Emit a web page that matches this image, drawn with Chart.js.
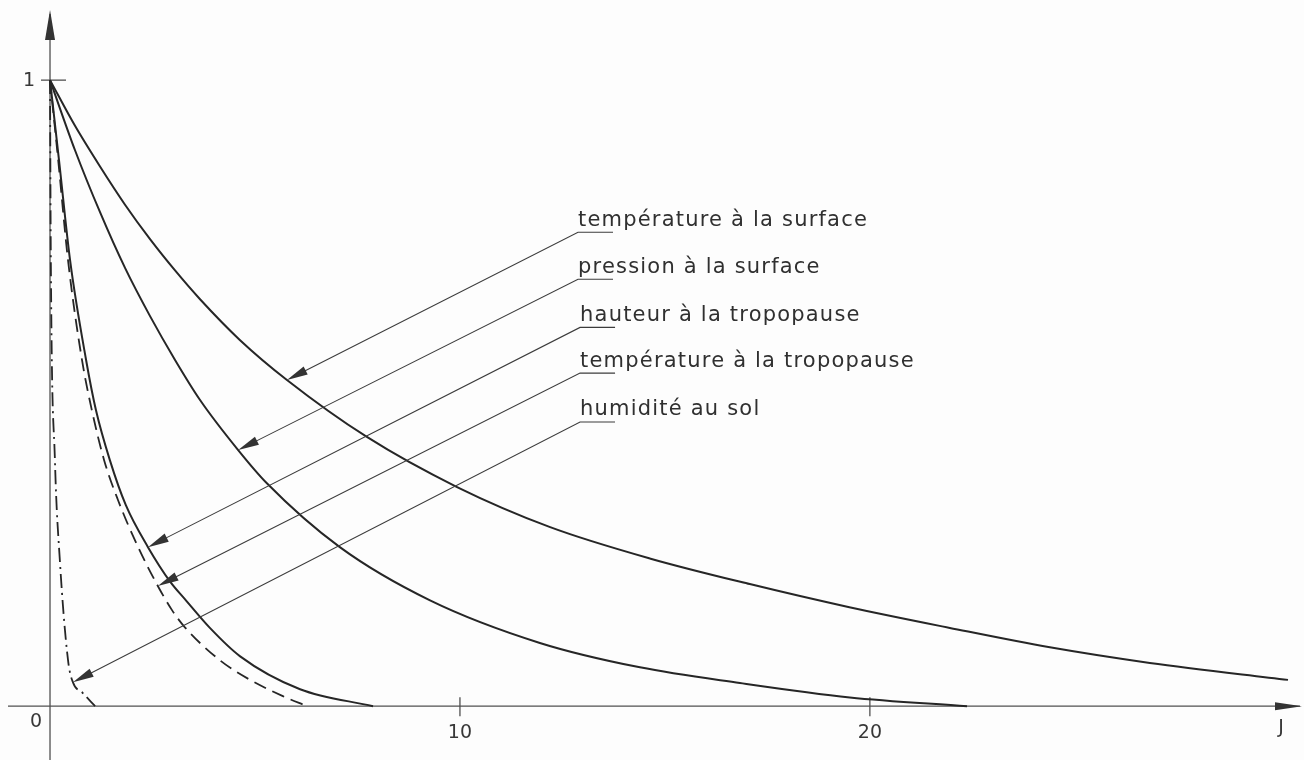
<!DOCTYPE html>
<html>
<head>
<meta charset="utf-8">
<script src="https://cdn.jsdelivr.net/npm/chart.js@4/dist/chart.umd.min.js"></script>
<style>
  html, body { margin: 0; padding: 0; background: #fdfdfd; }
  #wrap { width: 1304px; height: 760px; }
</style>
</head>
<body>
<div id="wrap"><canvas id="myChart" width="1304" height="760"></canvas></div>
<script>
// values: x in days (J), y as a fraction of the initial value
const tempSurfX = [0, 0.61, 1.22, 1.83, 2.44, 3.05, 3.66, 4.63, 5.78, 7.73, 9.93, 12.2, 14.63, 17.07, 19.5, 21.95, 24.39, 26.83, 30.2];
const tempSurfY = [1, 0.927, 0.862, 0.801, 0.746, 0.696, 0.650, 0.585, 0.521, 0.430, 0.350, 0.286, 0.236, 0.195, 0.158, 0.125, 0.094, 0.069, 0.042];

const presSurfX = [0, 0.61, 1.22, 1.83, 2.44, 3.05, 3.66, 4.59, 5.29, 7.07, 9.27, 11.95, 14.39, 16.83, 19.51, 22.37];
const presSurfY = [1, 0.888, 0.789, 0.700, 0.623, 0.553, 0.489, 0.409, 0.356, 0.254, 0.169, 0.101, 0.062, 0.037, 0.014, 0];

const hautTropoX = [0, 0.22, 0.49, 0.88, 1.12, 1.46, 1.85, 2.39, 2.93, 3.29, 3.9, 4.63, 6.1, 7.88];
const hautTropoY = [1, 0.872, 0.712, 0.553, 0.473, 0.393, 0.321, 0.254, 0.199, 0.171, 0.125, 0.080, 0.027, 0];

const tempTropoX = [0, 0.2, 0.44, 0.78, 1.02, 1.32, 1.66, 2.15, 2.63, 2.98, 3.29, 4.15, 4.88, 5.68, 6.27];
const tempTropoY = [1, 0.872, 0.712, 0.553, 0.473, 0.393, 0.329, 0.254, 0.192, 0.153, 0.126, 0.073, 0.042, 0.016, 0];

const humidX = [0, 0.02, 0.12, 0.24, 0.44, 0.56, 0.8, 1.1];
const humidY = [1, 0.712, 0.393, 0.233, 0.073, 0.038, 0.021, 0];

const seriesNames = [
  "température à la surface",
  "pression à la surface",
  "hauteur à la tropopause",
  "température à la tropopause",
  "humidité au sol"
];
// start of each leader line (under the label) and the point it arrows to
const labelX = [12.88, 12.88, 12.93, 12.93, 12.93];
const labelY = [0.757, 0.682, 0.605, 0.532, 0.454];
const arrowX = [5.78, 4.59, 2.39, 2.63, 0.56];
const arrowY = [0.521, 0.409, 0.254, 0.192, 0.038];

const xTicks = [10, 20];
const yTicks = [1];
const xAxisName = "J";

function pts(xs, ys) {
  return xs.map((x, i) => ({ x: x, y: ys[i] }));
}

function arrowHead(ctx, tx, ty, ang, len, half) {
  const bx = tx - len * Math.cos(ang), by = ty - len * Math.sin(ang);
  const nx = -Math.sin(ang) * half, ny = Math.cos(ang) * half;
  ctx.beginPath();
  ctx.moveTo(tx, ty);
  ctx.lineTo(bx + nx, by + ny);
  ctx.lineTo(bx - nx, by - ny);
  ctx.closePath();
  ctx.fill();
}

const ink = '#262626';
const textFont = '21px "DejaVu Sans"';

// axes, ticks, arrows and labels drawn with the chart's own scales
const drawing = {
  id: 'drawing',
  beforeDatasetsDraw(chart) {
    const ctx = chart.ctx, xs = chart.scales.x, ys = chart.scales.y;
    const x0 = xs.getPixelForValue(0), y0 = ys.getPixelForValue(0);
    ctx.save();
    ctx.strokeStyle = '#505050';
    ctx.fillStyle = '#333';
    ctx.lineWidth = 1.3;

    ctx.beginPath();
    ctx.moveTo(xs.left + 8, y0);
    ctx.lineTo(xs.right - 4, y0);
    ctx.stroke();
    arrowHead(ctx, xs.right - 2, y0, 0, 27, 4);

    ctx.beginPath();
    ctx.moveTo(x0, ys.bottom);
    ctx.lineTo(x0, ys.top + 14);
    ctx.stroke();
    arrowHead(ctx, x0, ys.top + 10, -Math.PI / 2, 30, 5);

    ctx.font = '19px "DejaVu Sans"';
    ctx.fillStyle = '#383838';
    ctx.textAlign = 'center';
    ctx.textBaseline = 'middle';

    xTicks.forEach(t => {
      const px = xs.getPixelForValue(t);
      ctx.beginPath();
      ctx.moveTo(px, y0 - 9);
      ctx.lineTo(px, y0 + 10);
      ctx.stroke();
      ctx.fillText(String(t), px, y0 + 27);
    });
    yTicks.forEach(t => {
      const py = ys.getPixelForValue(t);
      ctx.beginPath();
      ctx.moveTo(x0 - 9, py);
      ctx.lineTo(x0 + 16, py);
      ctx.stroke();
      ctx.fillText(String(t), x0 - 21, py + 1);
    });
    ctx.fillText("0", x0 - 14, y0 + 16);
    ctx.fillText(xAxisName, xs.right - 23, y0 + 22);
    ctx.restore();
  },
  afterDatasetsDraw(chart) {
    const ctx = chart.ctx, xs = chart.scales.x, ys = chart.scales.y;
    ctx.save();
    ctx.strokeStyle = '#3c3c3c';
    ctx.lineWidth = 1.1;
    seriesNames.forEach((name, i) => {
      const sx = xs.getPixelForValue(labelX[i]), sy = ys.getPixelForValue(labelY[i]);
      const tx = xs.getPixelForValue(arrowX[i]), ty = ys.getPixelForValue(arrowY[i]);
      const ang = Math.atan2(ty - sy, tx - sx);
      ctx.beginPath();
      ctx.moveTo(sx + 35, sy);
      ctx.lineTo(sx, sy);
      ctx.lineTo(tx - 10 * Math.cos(ang), ty - 10 * Math.sin(ang));
      ctx.stroke();
      ctx.fillStyle = '#333';
      arrowHead(ctx, tx, ty, ang, 21, 4.5);

      ctx.font = textFont;
      ctx.letterSpacing = '1.2px';
      ctx.fillStyle = '#303030';
      ctx.textAlign = 'left';
      ctx.textBaseline = 'alphabetic';
      ctx.fillText(name, sx, sy - 6.5);
    });
    ctx.restore();
  }
};

const ctx = document.getElementById('myChart').getContext('2d');
const myChart = new Chart(ctx, {
  type: 'line',
  data: {
    datasets: [
      { label: seriesNames[0], data: pts(tempSurfX, tempSurfY), borderColor: ink, borderWidth: 2 },
      { label: seriesNames[1], data: pts(presSurfX, presSurfY), borderColor: ink, borderWidth: 2 },
      { label: seriesNames[2], data: pts(hautTropoX, hautTropoY), borderColor: ink, borderWidth: 2 },
      { label: seriesNames[3], data: pts(tempTropoX, tempTropoY), borderColor: ink, borderWidth: 1.8, borderDash: [13, 7] },
      { label: seriesNames[4], data: pts(humidX, humidY), borderColor: ink, borderWidth: 1.8, borderDash: [14, 5, 2, 5] }
    ]
  },
  options: {
    responsive: false,
    animation: false,
    parsing: false,
    layout: { padding: 0 },
    elements: {
      point: { radius: 0 },
      line: { cubicInterpolationMode: 'monotone', fill: false }
    },
    plugins: { legend: { display: false }, tooltip: { enabled: false }, title: { display: false } },
    scales: {
      x: { type: 'linear', display: false, min: -1.22, max: 30.59 },
      y: { type: 'linear', display: false, min: -0.086, max: 1.128 }
    }
  },
  plugins: [drawing]
});
</script>
</body>
</html>
